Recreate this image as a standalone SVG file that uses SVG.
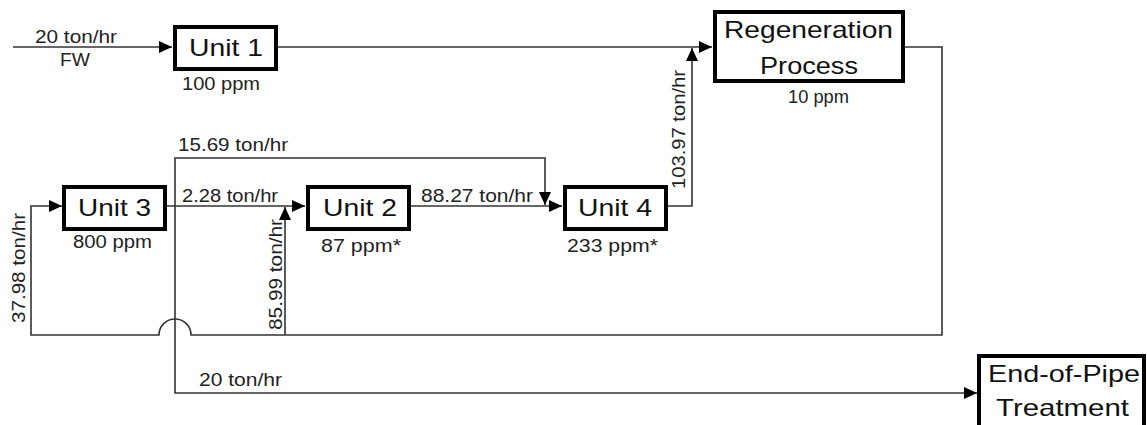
<svg xmlns="http://www.w3.org/2000/svg" width="1147" height="425" viewBox="0 0 1147 425">
<defs>
<style>
.box{fill:#fff;stroke:#000;stroke-width:4}
.bt{font-family:"Liberation Sans",Arial,sans-serif;font-size:24px;fill:#111}
.st{font-family:"Liberation Sans",Arial,sans-serif;font-size:18px;fill:#222}
.ln{fill:none;stroke:#333;stroke-width:1.6}
</style>
<marker id="ah" markerUnits="userSpaceOnUse" markerWidth="14" markerHeight="12" refX="13" refY="6" orient="auto">
<path d="M0,0 L13,6 L0,12 Z" fill="#000"/>
</marker>
</defs>
<rect width="1147" height="425" fill="#fff"/>
<g id="connectors">
<path class="ln" d="M13,47 H172" marker-end="url(#ah)"/>
<path class="ln" d="M278,47 H712" marker-end="url(#ah)"/>
<path class="ln" d="M905,47 H942 V335 H191 A16,16 0 0 0 159,335 H31 V206 H62" marker-end="url(#ah)"/>
<path class="ln" d="M167,206 H305" marker-end="url(#ah)"/>
<path class="ln" d="M175,206 V158 H545 V205" marker-end="url(#ah)"/>
<path class="ln" d="M175,206 V393 H977" marker-end="url(#ah)"/>
<path class="ln" d="M285,335 V207" marker-end="url(#ah)"/>
<path class="ln" d="M411,206 H562" marker-end="url(#ah)"/>
<path class="ln" d="M668,206 H692 V48" marker-end="url(#ah)"/>
<text class="st" x="35" y="43" textLength="82" lengthAdjust="spacingAndGlyphs">20 ton/hr</text>
<text class="st" x="60" y="66" textLength="30" lengthAdjust="spacingAndGlyphs">FW</text>
<text class="st" x="178" y="151" textLength="110" lengthAdjust="spacingAndGlyphs">15.69 ton/hr</text>
<text class="st" x="182" y="202" textLength="96" lengthAdjust="spacingAndGlyphs">2.28 ton/hr</text>
<text class="st" x="421" y="202" textLength="112" lengthAdjust="spacingAndGlyphs">88.27 ton/hr</text>
<text class="st" x="199" y="386" textLength="83" lengthAdjust="spacingAndGlyphs">20 ton/hr</text>
<text class="st" transform="translate(25,323) rotate(-90)" textLength="110" lengthAdjust="spacingAndGlyphs">37.98 ton/hr</text>
<text class="st" transform="translate(282,330) rotate(-90)" textLength="111" lengthAdjust="spacingAndGlyphs">85.99 ton/hr</text>
<text class="st" transform="translate(685,189) rotate(-90)" textLength="119" lengthAdjust="spacingAndGlyphs">103.97 ton/hr</text>
</g>
<g id="unit1">
<rect class="box" x="175" y="27" width="101" height="42"/>
<text class="bt" x="189" y="56" textLength="74" lengthAdjust="spacingAndGlyphs">Unit 1</text>
<text class="st" x="182" y="90" textLength="78" lengthAdjust="spacingAndGlyphs">100 ppm</text>
</g>
<g id="regeneration">
<rect class="box" x="715" y="12" width="188" height="69"/>
<text class="bt" x="724" y="38" textLength="169" lengthAdjust="spacingAndGlyphs">Regeneration</text>
<text class="bt" x="760" y="74" textLength="98" lengthAdjust="spacingAndGlyphs">Process</text>
<text class="st" x="788" y="103" textLength="61" lengthAdjust="spacingAndGlyphs">10 ppm</text>
</g>
<g id="unit3">
<rect class="box" x="64" y="187" width="101" height="42"/>
<text class="bt" x="78" y="216" textLength="73" lengthAdjust="spacingAndGlyphs">Unit 3</text>
<text class="st" x="73" y="248" textLength="79" lengthAdjust="spacingAndGlyphs">800 ppm</text>
</g>
<g id="unit2">
<rect class="box" x="308" y="187" width="101" height="42"/>
<text class="bt" x="323" y="216" textLength="74" lengthAdjust="spacingAndGlyphs">Unit 2</text>
<text class="st" x="321" y="252" textLength="80" lengthAdjust="spacingAndGlyphs">87 ppm*</text>
</g>
<g id="unit4">
<rect class="box" x="565" y="187" width="101" height="42"/>
<text class="bt" x="578" y="216" textLength="74" lengthAdjust="spacingAndGlyphs">Unit 4</text>
<text class="st" x="567" y="252" textLength="91" lengthAdjust="spacingAndGlyphs">233 ppm*</text>
</g>
<g id="endofpipe">
<rect class="box" x="979" y="356" width="165" height="80"/>
<text class="bt" x="988" y="382" textLength="152" lengthAdjust="spacingAndGlyphs">End-of-Pipe</text>
<text class="bt" x="996" y="416" textLength="133" lengthAdjust="spacingAndGlyphs">Treatment</text>
</g>
</svg>
